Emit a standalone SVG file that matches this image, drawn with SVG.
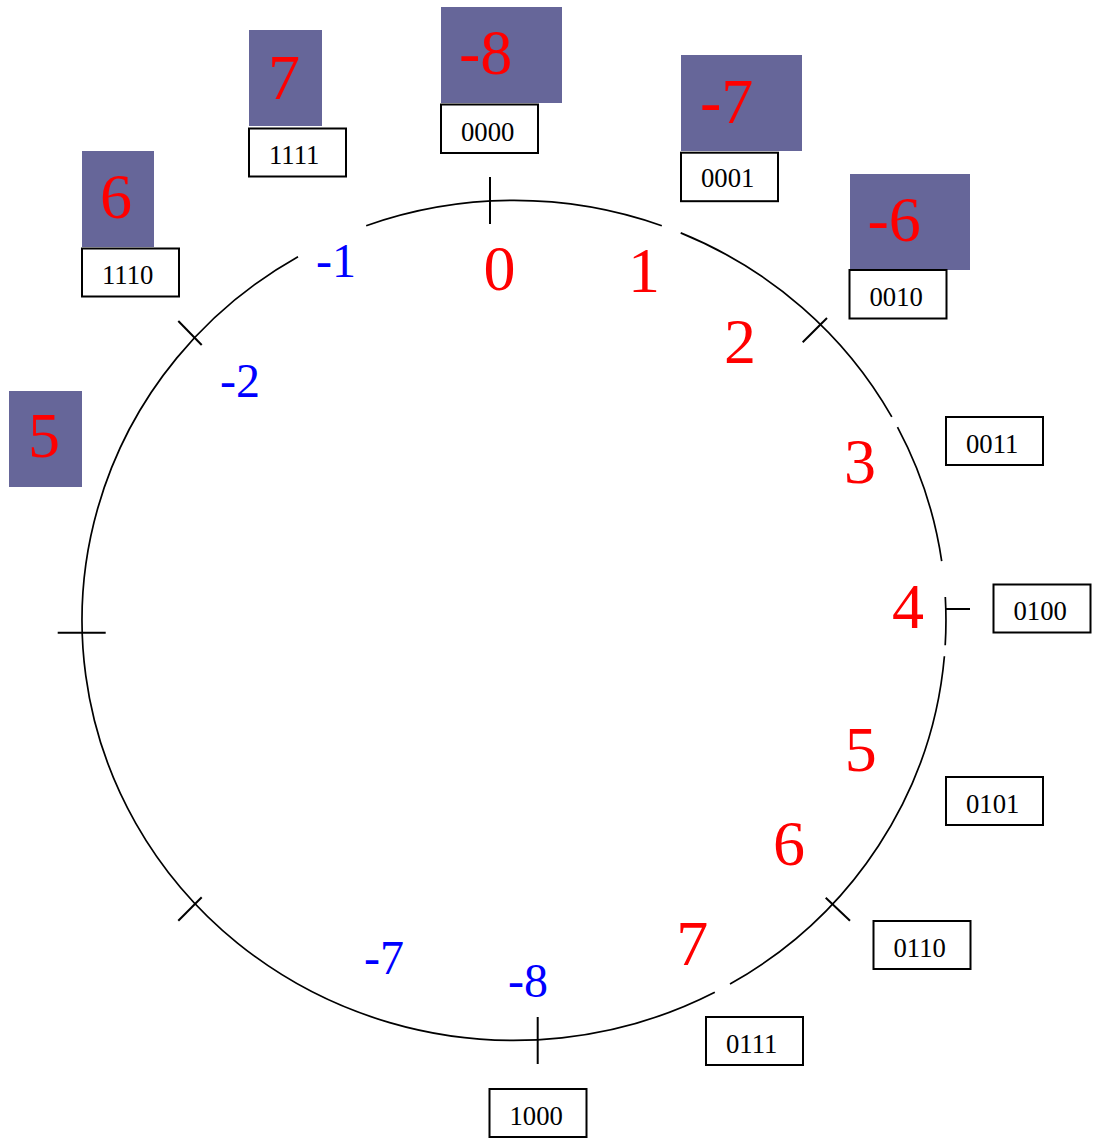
<svg xmlns="http://www.w3.org/2000/svg" width="1100" height="1141" viewBox="0 0 1100 1141">
<style>
.ring{fill:none;stroke:#000;stroke-width:1.7}
.tick{stroke:#000;stroke-width:2}
.pbox{fill:#666699}
.wbox{fill:#fff;stroke:#000;stroke-width:2}
.big{font-family:"Liberation Serif","Times New Roman",serif;font-size:64px;fill:#ff0000}
.bits{font-family:"Liberation Serif","Times New Roman",serif;font-size:26.7px;fill:#000}
.neg{font-family:"Liberation Serif","Times New Roman",serif;font-size:48px;fill:#0000ff}
</style>
<rect width="1100" height="1141" fill="#fff"/>
<g id="connectors">
<path class="ring" d="M366.2 225.7 A432 420 0 0 1 661.8 225.7 M680.7 232.9 A432 420 0 0 1 891.8 416.8 M897.5 427.1 A432 420 0 0 1 941.7 561.2 M945.3 597 A432 420 0 0 1 945.2 645.3 M944.4 656.3 A432 420 0 0 1 730 984.1 M714.8 992.3 A432 420 0 0 1 298 256.7"/>
<line class="tick" x1="490" y1="177" x2="490" y2="224"/>
<line class="tick" x1="537.7" y1="1017" x2="537.7" y2="1064"/>
<line class="tick" x1="57.7" y1="632.7" x2="105.7" y2="632.7"/>
<line class="tick" x1="946" y1="609" x2="970" y2="609"/>
<line class="tick" x1="178.3" y1="321" x2="201.7" y2="345"/>
<line class="tick" x1="802.7" y1="342.3" x2="827" y2="318"/>
<line class="tick" x1="178.3" y1="920.7" x2="201.7" y2="897.3"/>
<line class="tick" x1="825.7" y1="897.7" x2="850" y2="920.7"/>
</g>
<g id="n0000">
<rect class="pbox" x="441" y="7" width="121" height="96"/>
<text class="big" x="459" y="74">-8</text>
<rect class="wbox" x="441" y="104.5" width="97" height="48.5"/>
<text class="bits" x="461" y="140.5">0000</text>
</g>
<g id="n0001">
<rect class="pbox" x="681" y="55" width="121" height="96"/>
<text class="big" x="700" y="122.7">-7</text>
<rect class="wbox" x="681" y="152.7" width="97" height="48.5"/>
<text class="bits" x="701" y="187">0001</text>
</g>
<g id="n0010">
<rect class="pbox" x="850" y="174" width="120" height="96"/>
<text class="big" x="867.5" y="241">-6</text>
<rect class="wbox" x="849.5" y="270" width="97" height="48.5"/>
<text class="bits" x="869.5" y="305.7">0010</text>
</g>
<g id="n0011">
<rect class="wbox" x="946" y="417" width="97" height="48"/>
<text class="bits" x="966" y="452.5">0011</text>
</g>
<g id="n0100">
<rect class="wbox" x="993.5" y="584.5" width="97" height="48"/>
<text class="bits" x="1013.5" y="620">0100</text>
</g>
<g id="n0101">
<rect class="wbox" x="946" y="777" width="97" height="48"/>
<text class="bits" x="966" y="812.5">0101</text>
</g>
<g id="n0110">
<rect class="wbox" x="873.5" y="921" width="97" height="48"/>
<text class="bits" x="893.5" y="956.5">0110</text>
</g>
<g id="n0111">
<rect class="wbox" x="706" y="1017" width="97" height="48"/>
<text class="bits" x="726" y="1052.5">0111</text>
</g>
<g id="n1000">
<rect class="wbox" x="489.5" y="1089" width="97" height="48"/>
<text class="bits" x="509.5" y="1124.5">1000</text>
</g>
<g id="n1110">
<rect class="pbox" x="82" y="151" width="72" height="96"/>
<text class="big" x="100" y="218.3">6</text>
<rect class="wbox" x="82" y="248.5" width="97" height="48"/>
<text class="bits" x="102" y="284">1110</text>
</g>
<g id="n1111">
<rect class="pbox" x="249" y="30" width="73" height="96"/>
<text class="big" x="268" y="99">7</text>
<rect class="wbox" x="249" y="128.5" width="97" height="48"/>
<text class="bits" x="269" y="164.3">1111</text>
</g>
<g id="n5">
<rect class="pbox" x="9" y="391" width="73" height="96"/>
<text class="big" x="28" y="456.7">5</text>
</g>
<g id="unsigned">
<text class="big" x="483.5" y="290">0</text>
<text class="big" x="628" y="292">1</text>
<text class="big" x="724" y="363">2</text>
<text class="big" x="844" y="483">3</text>
<text class="big" x="892" y="628">4</text>
<text class="big" x="844.7" y="771">5</text>
<text class="big" x="773" y="865">6</text>
<text class="big" x="676.3" y="965">7</text>
</g>
<g id="signed">
<text class="neg" x="316" y="276.7">-1</text>
<text class="neg" x="220" y="396.7">-2</text>
<text class="neg" x="364" y="974">-7</text>
<text class="neg" x="508" y="997">-8</text>
</g>
</svg>
